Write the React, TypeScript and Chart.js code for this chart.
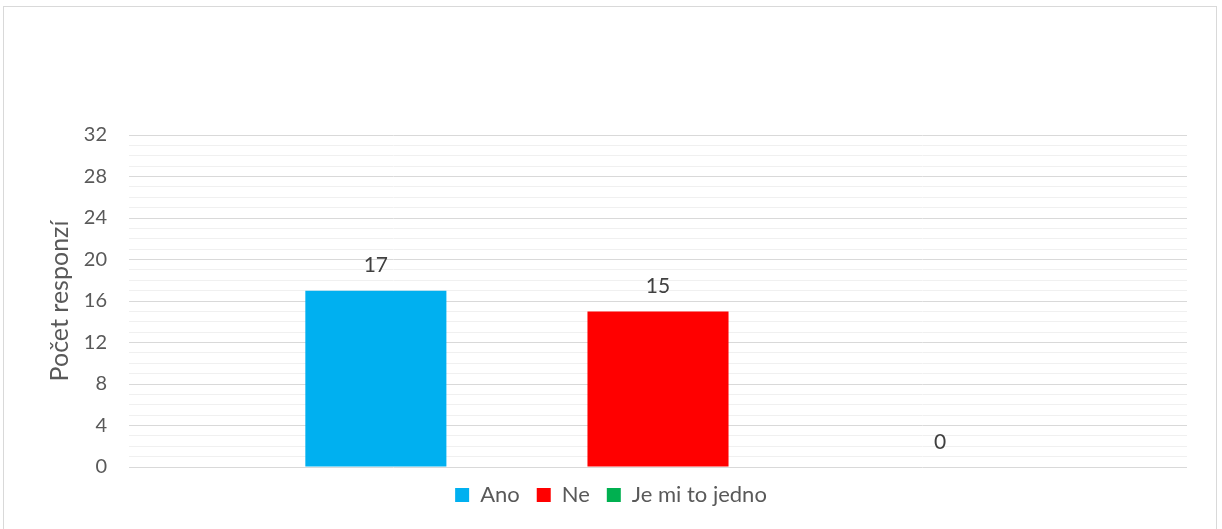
import React, { useEffect, useRef } from "react";
import { Chart, registerables } from "chart.js";

Chart.register(...registerables);

const categories = [""];
const seriesNames = ["Ano", "Ne", "Je mi to jedno"];
const seriesValues = [[17], [15], [0]];
const seriesColors = ["#00B0F0", "#FF0000", "#00B050"];
const yMax = 32;
const yMajorStep = 4;
const yAxisTitle = "Počet responzí";

const FONT = "Lato, 'Open Sans', sans-serif";

const valueLabels = {
  id: "valueLabels",
  afterDatasetsDraw(chart: any) {
    const ctx = chart.ctx;
    ctx.save();
    ctx.fillStyle = "#404040";
    ctx.font = `21px ${FONT}`;
    ctx.textAlign = "center";
    ctx.textBaseline = "middle";
    chart.data.datasets.forEach((ds: any, i: number) => {
      const meta = chart.getDatasetMeta(i);
      meta.data.forEach((bar: any, j: number) => {
        ctx.fillText(String(ds.data[j]), bar.x, bar.y - 25);
      });
    });
    ctx.restore();
  },
};

export default function App() {
  const ref = useRef<HTMLCanvasElement>(null);
  useEffect(() => {
    const chart = new Chart(ref.current!, {
      type: "bar",
      data: {
        labels: categories,
        datasets: seriesNames.map((name, i) => ({
          label: name,
          data: seriesValues[i],
          backgroundColor: seriesColors[i],
          borderWidth: 0,
          categoryPercentage: 0.8,
          barPercentage: 0.5,
        })),
      },
      plugins: [valueLabels],
      options: {
        responsive: false,
        animation: false,
        layout: { padding: { top: 135, right: 0, bottom: 13, left: 0 } },
        plugins: {
          legend: {
            position: "bottom",
            labels: {
              boxWidth: 14,
              boxHeight: 14,
              padding: 17,
              color: "#595959",
              font: { family: FONT, size: 22 },
            },
          },
          tooltip: { enabled: false },
        },
        scales: {
          x: { display: false },
          y: {
            min: 0,
            max: yMax,
            afterFit(scale: any) {
              scale.width = 129;
            },
            border: { display: false },
            grid: {
              drawTicks: false,
              color: (c: any) => (c.tick && c.tick.value % yMajorStep === 0 ? "#d9d9d9" : "#f0f0f0"),
              lineWidth: 1,
            },
            ticks: {
              stepSize: 1,
              autoSkip: false,
              padding: 22,
              color: "#595959",
              font: { family: FONT, size: 20 },
              callback: (v: any) => (Number(v) % yMajorStep === 0 ? String(v) : ""),
            },
            title: {
              display: true,
              text: yAxisTitle,
              color: "#595959",
              font: { family: FONT, size: 25 },
              padding: { top: 45, bottom: 0 },
            },
          },
          yRight: {
            position: "right",
            display: true,
            min: 0,
            max: yMax,
            afterFit(scale: any) {
              scale.width = 35;
            },
            border: { display: false },
            grid: { display: false },
            ticks: { display: false },
          },
        },
      },
    });
    return () => chart.destroy();
  }, []);
  return (
    <div style={{ position: "absolute", left: 0, top: 0, width: 1222, height: 529, overflow: "hidden", background: "#fff" }}>
      <div style={{ position: "absolute", left: 3, top: 6, width: 1212, height: 560, border: "1px solid #d9d9d9" }} />
      <canvas ref={ref} width={1222} height={529} style={{ position: "absolute", left: 0, top: 0 }} />
    </div>
  );
}
